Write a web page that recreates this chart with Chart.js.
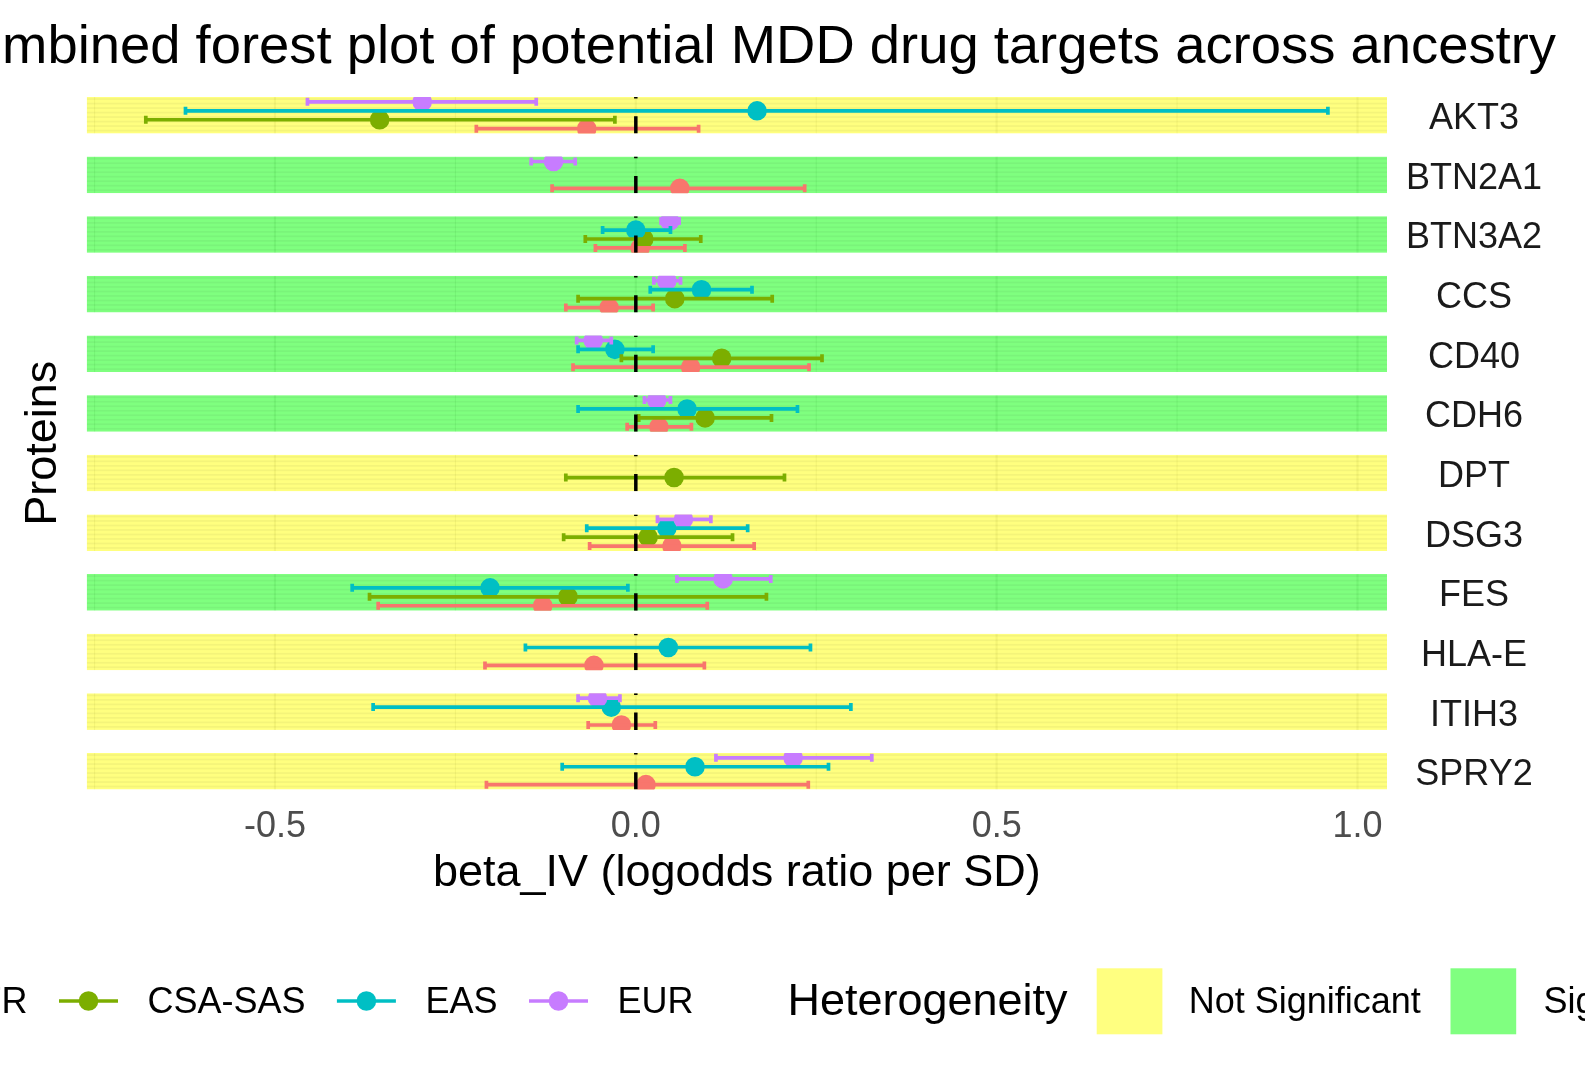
<!DOCTYPE html>
<html>
<head>
<meta charset="utf-8">
<title>Forest plot</title>
<script src="https://cdn.jsdelivr.net/npm/chart.js@4.4.0/dist/chart.umd.min.js"></script>
<style>
  html, body { margin: 0; padding: 0; background: #ffffff; }
</style>
</head>
<body>
<canvas id="forestChart" width="1585" height="1083"></canvas>
<script>
// Proteins, top to bottom
const proteins = ["AKT3", "BTN2A1", "BTN3A2", "CCS", "CD40", "CDH6", "DPT", "DSG3", "FES", "HLA-E", "ITIH3", "SPRY2"];
const heterogeneity = ["Not Significant", "Significant", "Significant", "Significant", "Significant", "Significant",
                       "Not Significant", "Not Significant", "Significant", "Not Significant", "Not Significant", "Not Significant"];

const ancestries = ["AFR", "CSA-SAS", "EAS", "EUR"];
const ancestryColors = ["#F8766D", "#7CAE00", "#00BFC4", "#C77CFF"];

// beta_IV and CI per ancestry (null = not estimated)
const afrBeta = [-0.068, 0.061, 0.006, -0.037, 0.076, 0.032, null, 0.050, -0.129, -0.058, -0.020, 0.014];
const afrLow  = [-0.221, -0.116, -0.056, -0.097, -0.087, -0.012, null, -0.064, -0.357, -0.209, -0.066, -0.207];
const afrHigh = [0.087, 0.234, 0.068, 0.024, 0.240, 0.077, null, 0.164, 0.099, 0.095, 0.027, 0.239];

const csaBeta = [-0.355, null, 0.011, 0.054, 0.119, 0.096, 0.053, 0.017, -0.094, null, null, null];
const csaLow  = [-0.679, null, -0.070, -0.080, -0.020, 0.004, -0.097, -0.100, -0.369, null, null, null];
const csaHigh = [-0.029, null, 0.090, 0.189, 0.258, 0.188, 0.206, 0.134, 0.181, null, null, null];

const easBeta = [0.168, null, 0.000, 0.091, -0.029, 0.071, null, 0.043, -0.202, 0.045, -0.034, 0.082];
const easLow  = [-0.624, null, -0.046, 0.020, -0.080, -0.080, null, -0.068, -0.393, -0.153, -0.364, -0.102];
const easHigh = [0.959, null, 0.048, 0.161, 0.024, 0.224, null, 0.155, -0.011, 0.242, 0.298, 0.267];

const eurBeta = [-0.296, -0.114, 0.047, 0.043, -0.059, 0.029, null, 0.066, 0.121, null, -0.053, 0.218];
const eurLow  = [-0.455, -0.145, 0.035, 0.025, -0.082, 0.012, null, 0.030, 0.057, null, -0.080, 0.111];
const eurHigh = [-0.138, -0.084, 0.060, 0.062, -0.034, 0.048, null, 0.104, 0.187, null, -0.022, 0.327];

const xTicks = [-0.5, 0, 0.5, 1.0];
const xMinorTicks = [-0.75, -0.25, 0.25, 0.75];

const betas = [afrBeta, csaBeta, easBeta, eurBeta];
const lows = [afrLow, csaLow, easLow, eurLow];
const highs = [afrHigh, csaHigh, easHigh, eurHigh];

// dodge within each protein row (axis is reversed, EUR on top)
const dodge = [0.225, 0.075, -0.075, -0.225];
const bandHalf = 0.307;
const lineW = 3.7;
const fontFamily = '"Liberation Sans", Arial, sans-serif';

// x range like ggplot: data range plus 5% each side
const allLow = lows.flat().filter(v => v !== null);
const allHigh = highs.flat().filter(v => v !== null);
const dataMin = Math.min(...allLow);
const dataMax = Math.max(...allHigh);
const xMin = dataMin - 0.05 * (dataMax - dataMin);
const xMax = dataMax + 0.05 * (dataMax - dataMin);

// Build datasets: points first (below), error bars on top
const datasets = [];
ancestries.forEach((name, k) => {
    const color = ancestryColors[k];
    const bars = [];
    const points = [];
    proteins.forEach((p, i) => {
        if (betas[k][i] === null) return;
        const yv = i + dodge[k];
        points.push({ x: betas[k][i], y: yv });
        bars.push({ x: lows[k][i], y: yv }, { x: highs[k][i], y: yv }, { x: null, y: null });
    });
    datasets.push({
        type: 'scatter',
        label: name,
        data: points,
        yAxisID: 'y',
        pointRadius: 9.8,
        pointBackgroundColor: color,
        pointBorderWidth: 0,
        order: 8 - k
    });
    datasets.push({
        type: 'scatter',
        label: name + ' CI',
        data: bars,
        yAxisID: 'y',
        showLine: true,
        spanGaps: false,
        borderColor: color,
        borderWidth: lineW,
        pointStyle: 'line',
        pointRotation: 90,
        pointRadius: 4,
        pointBorderWidth: lineW,
        pointBorderColor: color,
        order: 4 - k
    });
});

function bandEdges(yScale, i) {
    return [yScale.getPixelForValue(i - bandHalf), yScale.getPixelForValue(i + bandHalf)];
}

// Panel backgrounds, grid, clipping and the dashed zero line
const panelPlugin = {
    id: 'panels',
    beforeDatasetsDraw(chart) {
        const { ctx, chartArea, scales: { x, y } } = chart;
        proteins.forEach((p, i) => {
            const [top, bottom] = bandEdges(y, i);
            ctx.save();
            ctx.beginPath();
            ctx.rect(chartArea.left, top, chartArea.width, bottom - top);
            ctx.clip();
            ctx.strokeStyle = '#EBEBEB';
            xTicks.concat(xMinorTicks).forEach(v => {
                const px = x.getPixelForValue(v);
                ctx.lineWidth = xTicks.includes(v) ? 2.2 : 1.1;
                ctx.beginPath();
                ctx.moveTo(px, top);
                ctx.lineTo(px, bottom);
                ctx.stroke();
            });
            ctx.fillStyle = heterogeneity[i] === 'Significant' ? 'rgba(0,255,0,0.5)' : 'rgba(255,255,0,0.5)';
            ctx.fillRect(chartArea.left, top, chartArea.width, bottom - top);
            ctx.fillStyle = 'rgba(0,0,0,0.045)';
            for (let s = top + 1.2; s < bottom; s += 4.5) {
                ctx.fillRect(chartArea.left, s, chartArea.width, 1.8);
            }
            ctx.restore();
        });
        // clip the marks to the panels
        ctx.save();
        ctx.beginPath();
        proteins.forEach((p, i) => {
            const [top, bottom] = bandEdges(y, i);
            ctx.rect(chartArea.left, top, chartArea.width, bottom - top);
        });
        ctx.clip();
    },
    afterDatasetsDraw(chart) {
        const { ctx, chartArea, scales: { x, y } } = chart;
        ctx.restore();
        const x0 = x.getPixelForValue(0);
        proteins.forEach((p, i) => {
            const [top, bottom] = bandEdges(y, i);
            ctx.save();
            ctx.beginPath();
            ctx.rect(chartArea.left, top, chartArea.width, bottom - top);
            ctx.clip();
            ctx.strokeStyle = '#000000';
            ctx.lineWidth = 3.5;
            ctx.setLineDash([17.3, 17.7]);
            ctx.beginPath();
            ctx.moveTo(x0, bottom);
            ctx.lineTo(x0, top);
            ctx.stroke();
            ctx.restore();
        });
    }
};

// Title and legend, placed like the original (partly cut off at the edges)
const titleLegendPlugin = {
    id: 'titleLegend',
    afterDraw(chart) {
        const { ctx } = chart;
        ctx.save();
        ctx.fillStyle = '#000000';
        ctx.font = '54.4px ' + fontFamily;
        ctx.textAlign = 'right';
        ctx.textBaseline = 'alphabetic';
        ctx.fillText('Combined forest plot of potential MDD drug targets across ancestry', 1556, 63);

        const ly = 1003;
        const keyCenters = [-103.5, 88.5, 366.4, 558.5];
        ctx.textBaseline = 'middle';
        ctx.textAlign = 'left';
        ctx.font = '36px ' + fontFamily;
        ancestries.forEach((name, k) => {
            const cx = keyCenters[k];
            ctx.strokeStyle = ancestryColors[k];
            ctx.lineWidth = lineW;
            ctx.beginPath();
            ctx.moveTo(cx - 29.5, ly - 2);
            ctx.lineTo(cx + 29.5, ly - 2);
            ctx.stroke();
            ctx.fillStyle = ancestryColors[k];
            ctx.beginPath();
            ctx.arc(cx, ly - 2, 9.8, 0, Math.PI * 2);
            ctx.fill();
            ctx.fillStyle = '#000000';
            ctx.fillText(name, cx + 59, ly);
        });

        ctx.font = '45px ' + fontFamily;
        ctx.fillText('Heterogeneity', 787.4, ly);
        ctx.font = '36px ' + fontFamily;
        ctx.fillStyle = '#FFFF80';
        ctx.fillRect(1096.7, 968.3, 65.7, 66);
        ctx.fillStyle = '#80FF80';
        ctx.fillRect(1450.5, 968.3, 65.7, 66);
        ctx.fillStyle = '#000000';
        ctx.fillText('Not Significant', 1188.7, ly);
        ctx.fillText('Significant', 1543.5, ly);
        ctx.restore();
    }
};

new Chart(document.getElementById('forestChart').getContext('2d'), {
    type: 'scatter',
    data: { datasets: datasets },
    plugins: [panelPlugin, titleLegendPlugin],
    options: {
        responsive: false,
        animation: false,
        layout: { padding: { top: 79.5, bottom: 164, left: 0, right: 0 } },
        plugins: {
            legend: { display: false },
            tooltip: { enabled: false },
            title: { display: false }
        },
        scales: {
            x: {
                type: 'linear',
                min: xMin,
                max: xMax,
                afterBuildTicks: axis => { axis.ticks = xTicks.map(v => ({ value: v })); },
                afterFit: axis => { axis.height = 112; },
                grid: { display: false, drawTicks: false },
                border: { display: false },
                ticks: {
                    callback: v => v.toFixed(1),
                    autoSkip: false,
                    maxRotation: 0,
                    padding: 2,
                    color: '#4D4D4D',
                    font: { family: fontFamily, size: 36, lineHeight: 1 }
                },
                title: {
                    display: true,
                    text: 'beta_IV (logodds ratio per SD)',
                    color: '#000000',
                    font: { family: fontFamily, size: 45, lineHeight: 1.2 },
                    padding: { top: 0, bottom: 18 }
                }
            },
            y: {
                type: 'linear',
                position: 'right',
                min: -0.6,
                max: 11.6,
                reverse: true,
                afterBuildTicks: axis => { axis.ticks = proteins.map((p, i) => ({ value: i })); },
                afterFit: axis => { axis.width = 198; },
                grid: { display: false, drawTicks: false },
                border: { display: false },
                ticks: {
                    callback: v => proteins[v],
                    autoSkip: false,
                    crossAlign: 'center',
                    padding: 19,
                    labelOffset: 4,
                    color: '#1A1A1A',
                    font: { family: fontFamily, size: 36 }
                }
            },
            yl: {
                type: 'linear',
                position: 'left',
                min: -0.6,
                max: 11.6,
                reverse: true,
                afterFit: axis => { axis.width = 86.7; },
                grid: { display: false, drawTicks: false },
                border: { display: false },
                ticks: { display: false },
                title: {
                    display: true,
                    text: 'Proteins',
                    color: '#000000',
                    font: { family: fontFamily, size: 45, lineHeight: 1.2 },
                    padding: { top: 17, bottom: 0 }
                }
            }
        }
    }
});
</script>
</body>
</html>
